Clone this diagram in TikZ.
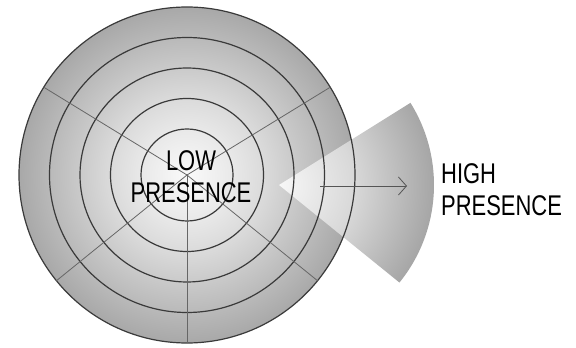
\documentclass[tikz,border=0pt]{standalone}
\usepackage{fontspec}
\setmainfont{Liberation Sans}[FakeStretch=0.77]
\usetikzlibrary{arrows.meta}

\definecolor{ringline}{HTML}{3A3A3A}
\definecolor{spokeline}{HTML}{666666}
\definecolor{arrowline}{HTML}{555555}

% light centre fading to grey at the rim
\pgfdeclareradialshading{discshade}{\pgfpoint{0bp}{0bp}}{%
  color(0bp)=(black!2); color(7bp)=(black!9); color(12bp)=(black!15);
  color(25bp)=(black!34); color(50bp)=(black!34)}
\pgfdeclareradialshading{wedgeshade}{\pgfpoint{0bp}{0bp}}{%
  color(0bp)=(black!3); color(12bp)=(black!15);
  color(25bp)=(black!35); color(50bp)=(black!35)}

\tikzset{
  ring/.style={draw=ringline, line width=1.2pt},
  spoke/.style={draw=spokeline, line width=0.8pt},
  pointer/.style={draw=arrowline, line width=0.8pt,
    -{Straight Barb[length=8pt,width=18pt]}},
  label/.style={inner sep=0pt, align=center,
    font=\fontsize{28.5}{32}\selectfont},
}

\begin{document}
\begin{tikzpicture}[x=1pt, y=1pt]
  \fill[white] (0,0) rectangle (576,348);
  \useasboundingbox (0,0) rectangle (576,348);

  \coordinate (C) at (187,173);
  \coordinate (A) at (279,163);

  % shaded disc
  \shade[shading=discshade] (C) circle (168);

  % sector reaching out to the right
  \begin{scope}
    \clip (A) -- ++(-39:155) arc[start angle=-39, end angle=32, radius=155] -- cycle;
    \shade[shading=wedgeshade] (A) circle (155);
  \end{scope}

  % concentric rings
  \foreach \r in {46,76.5,107,137.5,168}
    \draw[ring] (C) circle (\r);

  % spokes
  \foreach \a in {31.5,148.5,219,270,321}
    \draw[spoke] (C) -- ++(\a:168);

  % arrow
  \coordinate (tailpt) at (320,162);
  \coordinate (headpt) at (407,162);
  \draw[pointer] (tailpt) -- (headpt);

  % labels
  \node[label] (low) at (191,171.8) {LOW\\PRESENCE};
  \node[label, anchor=west, align=left] (high) at (441,158.5) {HIGH\\PRESENCE};
\end{tikzpicture}
\end{document}
